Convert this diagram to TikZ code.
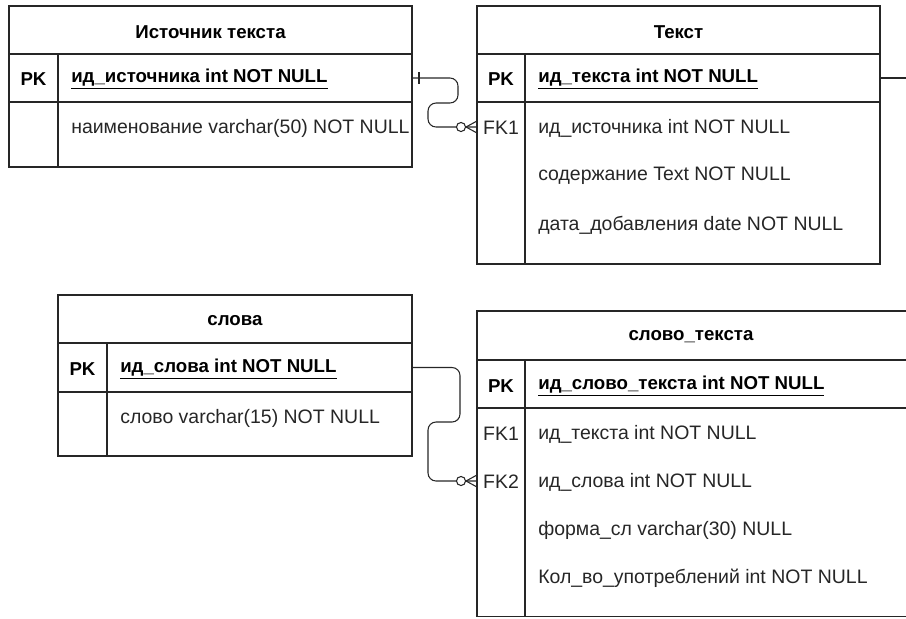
\documentclass[tikz,border=0pt]{standalone}
\usepackage{fontspec}
\setmainfont{Liberation Sans}
\begin{document}
\begin{tikzpicture}[x=0.75pt,y=-0.75pt,
  cell/.style={draw=black!85, line width=1pt, rectangle, inner sep=0pt, outer sep=0pt, anchor=north west},
  slot/.style={rectangle, inner sep=0pt, outer sep=0pt, anchor=north west},
  pxw/.style={minimum width=#1*0.75pt},
  pxh/.style={minimum height=#1*0.75pt},
  ttl/.style={font=\bfseries\fontsize{14}{16}\selectfont, inner sep=0pt},
  keytxt/.style={font=\bfseries\fontsize{14}{16}\selectfont, inner sep=0pt},
  fktxt/.style={font=\fontsize{14.6}{16}\selectfont, inner sep=0pt, text=black!85},
  fld/.style={font=\fontsize{14.6}{16}\selectfont, anchor=west, inner sep=0pt, text=black!85},
  pkfld/.style={font=\bfseries\fontsize{14}{16}\selectfont, anchor=west, inner sep=0pt},
  conn/.style={draw=black!85, line width=0.8pt, rounded corners=6pt},
  tick/.style={draw=black!85, line width=0.8pt},
]
\clip (0,0) rectangle (906,618);
% ---------- Источник текста ----------
\node[cell, pxw=403, pxh=48] (t1h) at (9,6) {};
\node[cell, pxw=403, pxh=48] (t1pk) at (9,54) {};
\node[cell, pxw=403, pxh=65] (t1b) at (9,102) {};
\draw[line width=1pt, black!85] (58,54) -- (58,167);
\node[ttl] (t1title) at ([yshift=-1.5pt]t1h.center) {Источник текста};
\node[keytxt] (t1pkl) at (33.5,79) {PK};
\node[pkfld] (t1pkf) at (71,79) {\underline{ид\_источника int NOT NULL}};
\node[fld] (t1f1) at (71,128) {наименование varchar(50) NOT NULL};

% ---------- Текст ----------
\node[cell, pxw=403, pxh=48] (t2h) at (477,6) {};
\node[cell, pxw=403, pxh=48] (t2pk) at (477,54) {};
\node[cell, pxw=403, pxh=162] (t2b) at (477,102) {};
\draw[line width=1pt, black!85] (525,54) -- (525,264);
\node[slot, pxw=403, pxh=50] (t2r1) at (477,102) {};
\node[ttl] (t2title) at ([yshift=-1.5pt]t2h.center) {Текст};
\node[keytxt] (t2pkl) at (501,79) {PK};
\node[pkfld] (t2pkf) at (538,79) {\underline{ид\_текста int NOT NULL}};
\node[fktxt] (t2fk1) at (501,128) {FK1};
\node[fld] (t2f1) at (538,128) {ид\_источника int NOT NULL};
\node[fld] (t2f2) at (538,176) {содержание Text NOT NULL};
\node[fld] (t2f3) at (538,225) {дата\_добавления date NOT NULL};
\coordinate (t2out) at (906,78);

% ---------- слова ----------
\node[cell, pxw=354, pxh=48] (t3h) at (58,295) {};
\node[cell, pxw=354, pxh=49] (t3pk) at (58,343) {};
\node[cell, pxw=354, pxh=64] (t3b) at (58,392) {};
\draw[line width=1pt, black!85] (107,343) -- (107,456);
\node[ttl] (t3title) at ([yshift=-1.5pt]t3h.center) {слова};
\node[keytxt] (t3pkl) at (82.5,369) {PK};
\node[pkfld] (t3pkf) at (120,369) {\underline{ид\_слова int NOT NULL}};
\node[fld] (t3f1) at (120,418) {слово varchar(15) NOT NULL};

% ---------- слово_текста ----------
\node[cell, pxw=453, pxh=49] (t4h) at (477,311) {};
\node[cell, pxw=453, pxh=48] (t4pk) at (477,360) {};
\node[cell, pxw=453, pxh=208.5] (t4b) at (477,408) {};
\draw[line width=1pt, black!85] (525,360) -- (525,616.5);
\node[slot, pxw=453, pxh=48] (t4r2) at (477,457) {};
\node[ttl] (t4title) at (691,337) {слово\_текста};
\node[keytxt] (t4pkl) at (501,386) {PK};
\node[pkfld] (t4pkf) at (538,386) {\underline{ид\_слово\_текста int NOT NULL}};
\node[fktxt] (t4fk1) at (501,434) {FK1};
\node[fld] (t4f1) at (538,434) {ид\_текста int NOT NULL};
\node[fktxt] (t4fk2) at (501,482) {FK2};
\node[fld] (t4f2) at (538,482) {ид\_слова int NOT NULL};
\node[fld] (t4f3) at (538,530) {форма\_сл varchar(30) NULL};
\node[fld] (t4f4) at (538,578) {Кол\_во\_употреблений int NOT NULL};

% ---------- connectors ----------
\draw[conn] (t1pk.east) -- (458,78) -- (458,103) -- (428,103) -- (428,127) -- (t2r1.west);
\draw[tick] (t1pk.east) ++(7,-6) -- ++(0,12);
\draw[tick] (t2r1.west) ++(-11,0) -- ++(11,-6);
\draw[tick] (t2r1.west) ++(-11,0) -- ++(11,6);
\draw[tick, fill=white] (t2r1.west) ++(-16,0) circle[radius=3.4pt];

\draw[conn] (t2pk.east) -- (t2out);

\draw[conn] (t3pk.east) -- (460,367.5) -- (460,422) -- (428,422) -- (428,481) -- (t4r2.west);
\draw[tick] (t4r2.west) ++(-11,0) -- ++(11,-6);
\draw[tick] (t4r2.west) ++(-11,0) -- ++(11,6);
\draw[tick, fill=white] (t4r2.west) ++(-16,0) circle[radius=3.4pt];
\end{tikzpicture}
\end{document}
